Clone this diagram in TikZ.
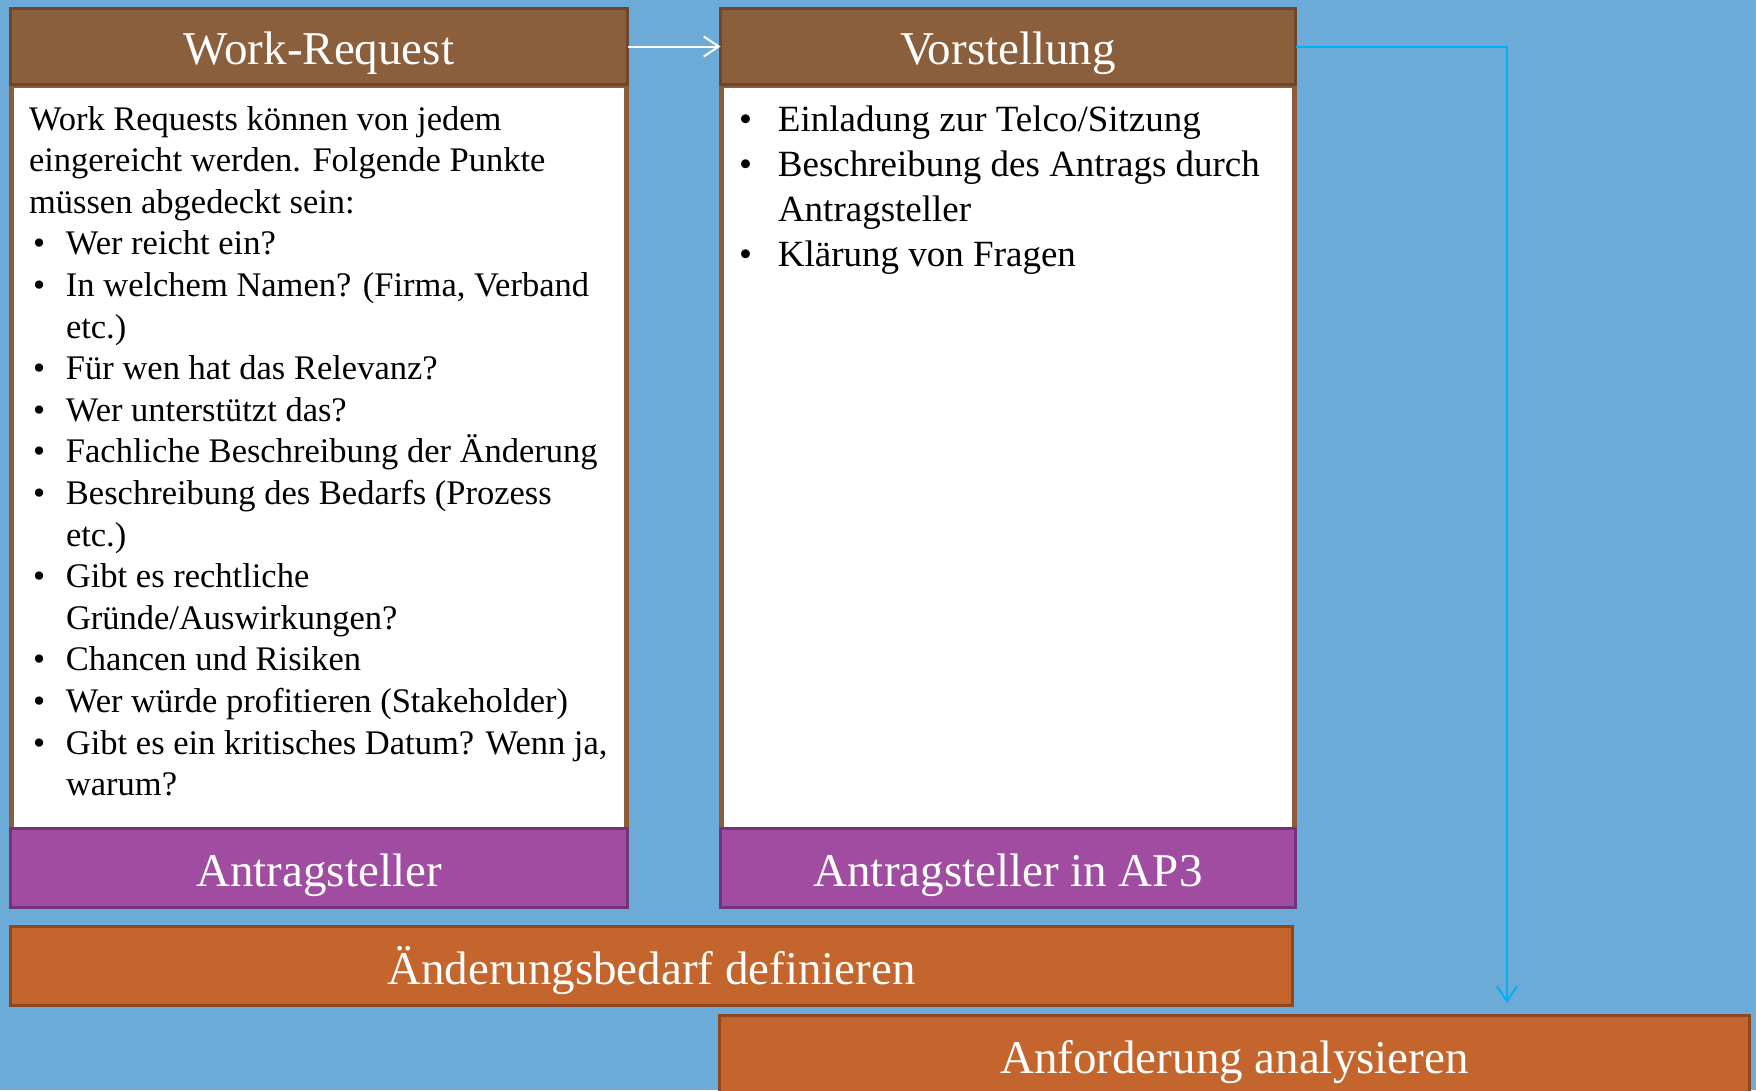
\documentclass[tikz,border=0pt]{standalone}
\usepackage{fontspec}
\setmainfont{Liberation Serif}
\usetikzlibrary{arrows.meta}
\definecolor{bg}{HTML}{6CAAD8}
\definecolor{hdrfill}{HTML}{8B5E3C}
\definecolor{hdrline}{HTML}{6D472D}
\definecolor{frame}{HTML}{8D5D3A}
\definecolor{ftrfill}{HTML}{A04DA1}
\definecolor{ftrline}{HTML}{733579}
\definecolor{barfill}{HTML}{C3652D}
\definecolor{barline}{HTML}{8F4720}
\definecolor{conn}{HTML}{00B0F0}
\newcommand{\bul}{\hspace*{4pt}\makebox[33pt][l]{•}}
\newcommand{\cont}{\hspace*{37pt}}
\newcommand{\rbul}{\makebox[39pt][l]{•}}
\newcommand{\rcont}{\hspace*{39pt}}
\begin{document}
\begin{tikzpicture}[x=1pt,y=-1pt,
  boxbase/.style={line width=3pt, text=white, inner sep=0pt, outer sep=0pt,
    font=\fontsize{47}{56}\selectfont, minimum height=76pt,
    text height=36pt, text depth=0pt},
  hdr/.style={boxbase, draw=hdrline, fill=hdrfill},
  ftr/.style={boxbase, draw=ftrline, fill=ftrfill, minimum height=79pt},
  bar/.style={boxbase, draw=barline, fill=barfill, minimum height=79pt},
  bodytext/.style={anchor=base west, inner sep=0pt, outer sep=0pt, text=black},
  flowarrow/.style={line width=2pt, -{Straight Barb[length=15pt, width=20pt, line width=2pt]}}
]
\useasboundingbox (0,0) rectangle (1756,1090);
\clip (0,0) rectangle (1756,1090);
\fill[bg] (0,0) rectangle (1756,1090);

% column frames and white bodies
\fill[frame] (9,7) rectangle (629,829);
\fill[white] (14,88) rectangle (624,829);
\fill[frame] (719,7) rectangle (1297,829);
\fill[white] (724,88) rectangle (1292,829);

% headers
\node[hdr, minimum width=617pt] (wr) at (319,46.5) {Work-Request};
\node[hdr, minimum width=575pt] (vs) at (1008,46.5) {Vorstellung};

% footers
\node[ftr, minimum width=617pt] (ft1) at (319,868) {Antragsteller};
\node[ftr, minimum width=575pt] (ft2) at (1008,868) {Antragsteller in AP3};

% bars
\node[bar, minimum width=1282pt] (b1) at (651.5,966) {Änderungsbedarf definieren};
\node[bar, minimum width=1030pt] (b2) at (1234.5,1055) {Anforderung analysieren};

% body texts
\node[bodytext] (t1) at (29,130) {\parbox[t]{595pt}{\fontsize{34.5}{41.6}\selectfont\raggedright
Work Requests können von jedem\\
eingereicht werden. Folgende Punkte\\
müssen abgedeckt sein:\\
\bul Wer reicht ein?\\
\bul In welchem Namen? (Firma, Verband\\
\cont etc.)\\
\bul Für wen hat das Relevanz?\\
\bul Wer unterstützt das?\\
\bul Fachliche Beschreibung der Änderung\\
\bul Beschreibung des Bedarfs (Prozess\\
\cont etc.)\\
\bul Gibt es rechtliche\\
\cont Gründe/Auswirkungen?\\
\bul Chancen und Risiken\\
\bul Wer würde profitieren (Stakeholder)\\
\bul Gibt es ein kritisches Datum? Wenn ja,\\
\cont warum?}};

\node[bodytext] (t2) at (739,131) {\parbox[t]{550pt}{\fontsize{37}{45.2}\selectfont\raggedright
\rbul Einladung zur Telco/Sitzung\\
\rbul Beschreibung des Antrags durch\\
\rcont Antragsteller\\
\rbul Klärung von Fragen}};

% connectors
\coordinate (tip) at (1507,1003);
\draw[flowarrow, white] (wr.east) -- (vs.west);
\draw[flowarrow, conn] (vs.east) -| (tip);
\end{tikzpicture}
\end{document}
